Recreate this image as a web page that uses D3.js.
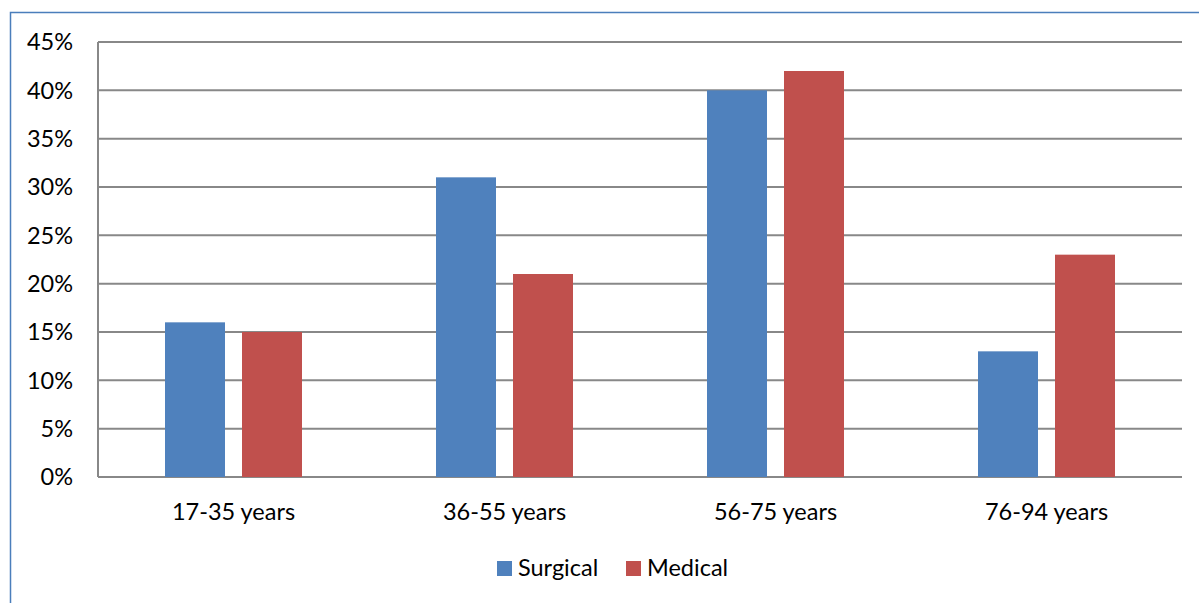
<!DOCTYPE html>
<html><head><meta charset="utf-8">
<script src="https://cdn.jsdelivr.net/npm/d3@7"></script>
<style>body{margin:0;background:#fff;} svg{display:block;} text{font-family:Lato,"Open Sans",sans-serif;fill:#000;}</style>
</head><body><svg id="c" width="1199" height="603"></svg>
<script>
const categories = ["17-35 years","36-55 years","56-75 years","76-94 years"];
const seriesNames = ["Surgical","Medical"];
const surgical = [16,31,40,13];
const medical = [15,21,42,23];
const yTicks = [0,5,10,15,20,25,30,35,40,45];
const colors = ["#4f81bd","#c0504d"];

const svg = d3.select("#c");
// outer border
svg.append("path").attr("d","M10.5,603 L10.5,12.5 L1199,12.5").attr("fill","none").attr("stroke","#4a7ebb").attr("stroke-width",1.5);

const L=98,R=1182,T=42,B=477;
const x = d3.scaleBand().domain(categories).range([L,R]);
const y = d3.scaleLinear().domain([0,45]).range([B,T]);
const barW = 60, gap = 17;

// grid
svg.append("g").selectAll("line").data(yTicks).join("line")
  .attr("x1",L).attr("x2",R).attr("y1",d=>y(d)).attr("y2",d=>y(d))
  .attr("stroke","#888").attr("stroke-width",2);
svg.append("line").attr("x1",L).attr("x2",L).attr("y1",T).attr("y2",B).attr("stroke","#888").attr("stroke-width",2);

const fs = "23.5px";
// y labels
svg.append("g").selectAll("text").data(yTicks).join("text")
  .attr("x",73).attr("y",d=>y(d)).attr("dy","0.35em").attr("text-anchor","end")
  .style("font-size",fs).text(d=>d+"%");

// bars
const data = [surgical, medical];
data.forEach((vals,si)=>{
  svg.append("g").selectAll("rect").data(vals).join("rect")
    .attr("x",(d,i)=>x(categories[i])+x.bandwidth()/2-(barW+gap/2)+si*(barW+gap))
    .attr("width",barW)
    .attr("y",d=>y(d)).attr("height",d=>B-y(d))
    .attr("fill",colors[si]);
});

// x labels
svg.append("g").selectAll("text").data(categories).join("text")
  .attr("x",d=>x(d)+x.bandwidth()/2).attr("y",512).attr("dy","0.35em").attr("text-anchor","middle")
  .style("font-size",fs).text(d=>d);

// legend
const leg = [{n:"Surgical",x:497},{n:"Medical",x:626}];
leg.forEach((l,i)=>{
  svg.append("rect").attr("x",l.x).attr("y",561).attr("width",15).attr("height",15).attr("fill",colors[i]);
  svg.append("text").attr("x",l.x+21).attr("y",568).attr("dy","0.35em").style("font-size",fs).text(l.n);
});
</script></body></html>
